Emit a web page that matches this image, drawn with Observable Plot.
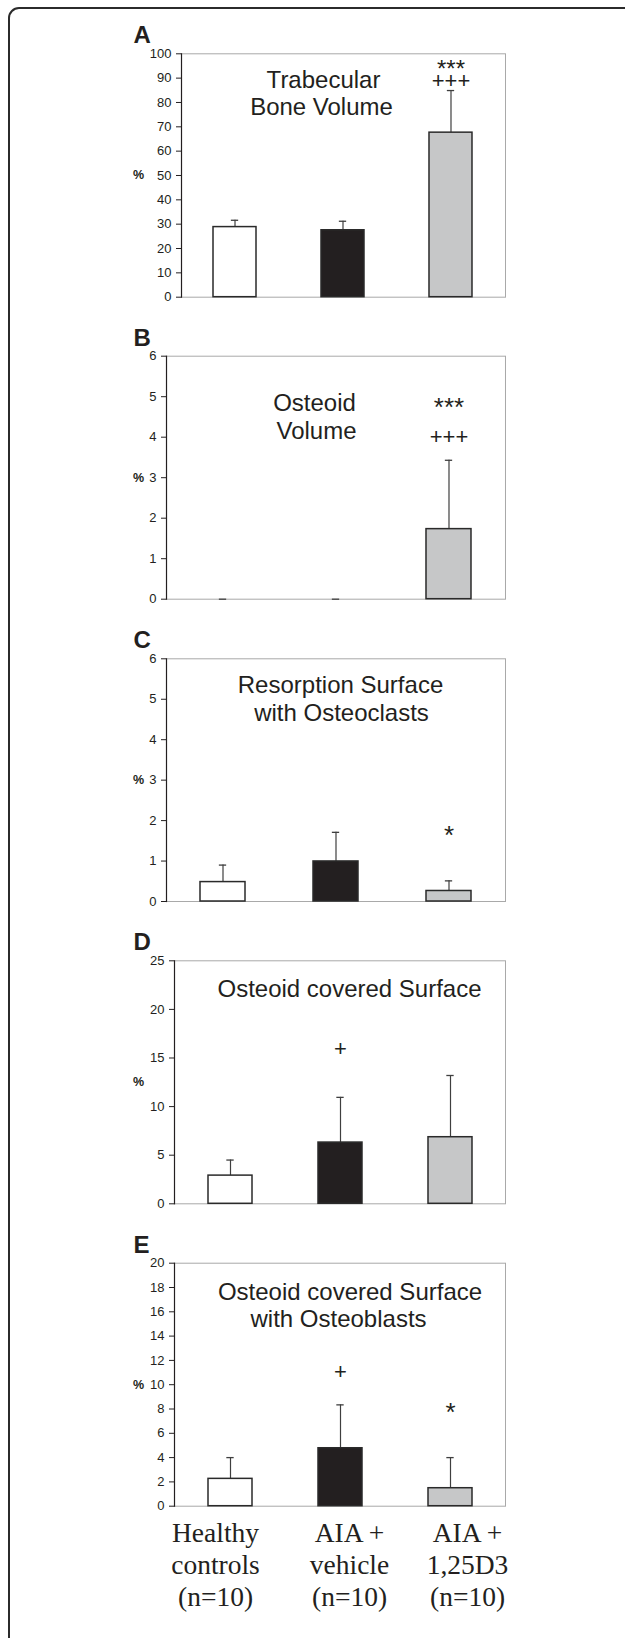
<!DOCTYPE html>
<html><head><meta charset="utf-8">
<script src="https://cdn.jsdelivr.net/npm/d3@7"></script>
<script src="https://cdn.jsdelivr.net/npm/@observablehq/plot@0.6"></script>
<style>
html,body{margin:0;padding:0;background:#fff;}
#wrap{position:relative;width:625px;height:1638px;overflow:hidden;background:#fff;}
#border{position:absolute;left:8px;top:7px;width:720px;height:1642px;border:2px solid #2b2b2b;border-radius:11px;box-sizing:border-box;}
#wrap svg{position:absolute;left:0;}
</style></head><body><div id="wrap"><div id="border"></div></div>
<script>
// Groups and labels
const groups = ["Healthy controls", "AIA + vehicle", "AIA + 1,25D3"];
const groupLabels = ["Healthy\ncontrols\n(n=10)", "AIA +\nvehicle\n(n=10)", "AIA +\n1,25D3\n(n=10)"];
const barColors = ["#ffffff", "#231f20", "#c6c7c8"];

// A: Trabecular Bone Volume
const tbvMean = [28.8, 27.5, 67.6];
const tbvSD = [2.8, 3.7, 17.3];
const tbvStars = ["", "", "***"];
const tbvPlus = ["", "", "+++"];
const tbvTicks = [0, 10, 20, 30, 40, 50, 60, 70, 80, 90, 100];

// B: Osteoid Volume
const ovMean = [0, 0, 1.73];
const ovSD = [0, 0, 1.70];
const ovStars = ["", "", "***"];
const ovPlus = ["", "", "+++"];
const ovTicks = [0, 1, 2, 3, 4, 5, 6];

// C: Resorption Surface with Osteoclasts
const rsMean = [0.48, 0.99, 0.26];
const rsSD = [0.42, 0.72, 0.25];
const rsStars = ["", "", "*"];
const rsTicks = [0, 1, 2, 3, 4, 5, 6];

// D: Osteoid covered Surface
const osMean = [2.9, 6.3, 6.85];
const osSD = [1.6, 4.65, 6.35];
const osPlus = ["", "+", ""];
const osTicks = [0, 5, 10, 15, 20, 25];

// E: Osteoid covered Surface with Osteoblasts
const obMean = [2.25, 4.77, 1.48];
const obSD = [1.75, 3.57, 2.52];
const obPlus = ["", "+", ""];
const obStars = ["", "", "*"];
const obTicks = [0, 2, 4, 6, 8, 10, 12, 14, 16, 18, 20];

const wrap = document.getElementById("wrap");
const SANS = "'Liberation Sans', Arial, Helvetica, sans-serif";
const SERIF = "'Liberation Serif', 'Times New Roman', serif";
const RIGHT = 505;

function panel(c) {
  const data = groups.map((g, i) => ({g, mean: c.mean[i], top: c.mean[i] + c.sd[i]}));
  const marginTop = c.frameTop - c.svgTop;
  const plotH = c.frameBottom - c.frameTop;
  const marginBottom = c.marginBottom ?? 12;
  const bw = (RIGHT - c.left) / 3 * 0.4;
  const marks = [
    Plot.frame({stroke: "#a9a9a9", strokeWidth: 1}),
    Plot.ruleX(data, {x: "g", y1: "mean", y2: "top", stroke: "#3f3f3f", strokeWidth: 1.2}),
    Plot.tickY(data, {x: "g", y: "top", stroke: "#3f3f3f", strokeWidth: 1.3, inset: (bw - 7.5) / 2}),
    Plot.barY(data, {x: "g", y: "mean", fill: "g", stroke: "#2a2a2a", strokeWidth: 1.5}),
    Plot.axisY({ticks: c.ticks, tickSize: 5, tickPadding: 5, fontSize: 13, label: null, tickFormat: d => String(d)}),
    Plot.frame({anchor: "left", stroke: "#231f20", strokeWidth: 1.2}),
    Plot.text(["%"], {frameAnchor: "left", dx: 138 - c.left, textAnchor: "middle", lineAnchor: "middle", fontSize: 12.5, fontWeight: "bold"}),
    Plot.text([c.letter], {frameAnchor: "top-left", dx: 133 - c.left, dy: -10.5, textAnchor: "start", lineAnchor: "bottom", fontSize: 24, fontWeight: "bold"}),
    ...c.titles.map(t => Plot.text([t.t], {frameAnchor: "top", dx: t.dx, dy: t.dy, textAnchor: "middle", lineAnchor: "middle", fontSize: 24})),
    ...c.sigs.map(s => Plot.text(data, {x: "g", text: (d, i) => s.arr[i], frameAnchor: "top", dy: s.dy, textAnchor: "middle",
      lineAnchor: "middle", fontSize: s.size}))
  ];
  if (c.xlabels) {
    const ldx = [-15, 9, 17];
    groups.forEach((g, i) => {
      marks.push(Plot.text([g], {x: d => d, text: () => groupLabels[i], frameAnchor: "bottom", dx: ldx[i], dy: 12.9,
        textAnchor: "middle", lineAnchor: "top", lineHeight: 1.17, fontSize: 27.5, fontFamily: SERIF}));
    });
  }
  const svg = Plot.plot({
    width: 625,
    height: marginTop + plotH + marginBottom,
    marginTop, marginBottom,
    marginLeft: c.left, marginRight: 625 - RIGHT,
    x: {domain: groups, paddingInner: 0.6, paddingOuter: 0.3, axis: null},
    y: {domain: c.domain},
    color: {domain: groups, range: barColors},
    style: {fontFamily: SANS, color: "#231f20", background: "transparent", overflow: "visible"},
    marks
  });
  svg.style.top = c.svgTop + "px";
  wrap.append(svg);
}

panel({letter: "A", svgTop: 0, frameTop: 53.3, frameBottom: 296.7, left: 181, domain: [0, 100], ticks: tbvTicks,
  mean: tbvMean, sd: tbvSD,
  titles: [{t: "Trabecular", dx: -20, dy: 26.7}, {t: "Bone Volume", dx: -22, dy: 53.4}],
  sigs: [{arr: tbvStars, dy: 15.5, size: 24}, {arr: tbvPlus, dy: 27.5, size: 22}]});

panel({letter: "B", svgTop: 305, frameTop: 355.7, frameBottom: 598.7, left: 166, domain: [0, 6], ticks: ovTicks,
  mean: ovMean, sd: ovSD,
  titles: [{t: "Osteoid", dx: -21.5, dy: 47.6}, {t: "Volume", dx: -19.5, dy: 75.3}],
  sigs: [{arr: ovStars, dy: 51.5, size: 26}, {arr: ovPlus, dy: 80.3, size: 22}]});

panel({letter: "C", svgTop: 610, frameTop: 658.3, frameBottom: 901, left: 166, domain: [0, 6], ticks: rsTicks,
  mean: rsMean, sd: rsSD,
  titles: [{t: "Resorption Surface", dx: 4.5, dy: 26.7}, {t: "with Osteoclasts", dx: 5.5, dy: 54.4}],
  sigs: [{arr: rsStars, dy: 177, size: 26}]});

panel({letter: "D", svgTop: 912, frameTop: 960.3, frameBottom: 1203.3, left: 174, domain: [0, 25], ticks: osTicks,
  mean: osMean, sd: osSD,
  titles: [{t: "Osteoid covered Surface", dx: 9.5, dy: 28.7}],
  sigs: [{arr: osPlus, dy: 88, size: 22}]});

panel({letter: "E", svgTop: 1215, frameTop: 1262.7, frameBottom: 1505.7, left: 174, domain: [0, 20], ticks: obTicks,
  mean: obMean, sd: obSD, marginBottom: 1638 - 1505.7, xlabels: true,
  titles: [{t: "Osteoid covered Surface", dx: 10, dy: 29}, {t: "with Osteoblasts", dx: -1.5, dy: 56.3}],
  sigs: [{arr: obPlus, dy: 109, size: 22}, {arr: obStars, dy: 149.5, size: 26}]});
</script>
</body></html>
